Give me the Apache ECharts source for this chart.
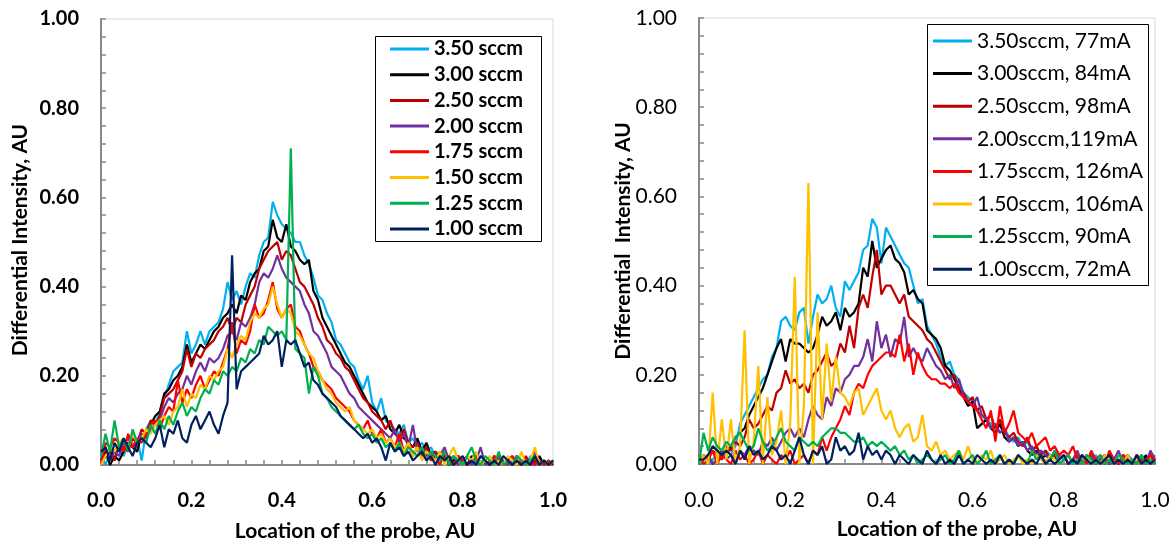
<!DOCTYPE html>
<html><head><meta charset="utf-8">
<script src="https://cdn.jsdelivr.net/npm/echarts@6/dist/echarts.min.js"></script>
<style>html,body{margin:0;padding:0;background:#fff}#c{width:1173px;height:542px}</style>
</head><body><div id="c"></div>
<script>
// probe locations: sampled every 0.01 AU from 0.00 to 1.00
const STEP = 0.01;

const leftNames = ["3.50 sccm","3.00 sccm","2.50 sccm","2.00 sccm","1.75 sccm","1.50 sccm","1.25 sccm","1.00 sccm"];
const rightNames = ["3.50sccm, 77mA","3.00sccm, 84mA","2.50sccm, 98mA","2.00sccm,119mA","1.75sccm, 126mA","1.50sccm, 106mA","1.25sccm, 90mA","1.00sccm, 72mA"];
const colors = ["#00B0F0","#000000","#C00000","#7030A0","#FF0000","#FFC000","#00B050","#002060"];
const xTicks = ["0.0","0.2","0.4","0.6","0.8","1.0"];
const yTicks = ["0.00","0.20","0.40","0.60","0.80","1.00"];

// ---- Left chart ----
const L350 = [
0.02,0.00,0.03,0.01,0.04,0.02,0.05,0.04,0.06,0.01,
0.08,0.10,0.09,0.12,0.15,0.18,0.21,0.22,0.23,0.30,
0.25,0.27,0.30,0.27,0.30,0.31,0.32,0.35,0.41,0.37,
0.39,0.36,0.40,0.43,0.42,0.47,0.50,0.51,0.59,0.56,
0.54,0.53,0.52,0.50,0.50,0.47,0.45,0.42,0.38,0.37,
0.34,0.32,0.28,0.27,0.25,0.23,0.22,0.19,0.17,0.20,
0.14,0.12,0.15,0.10,0.09,0.08,0.07,0.09,0.05,0.06,
0.04,0.05,0.03,0.04,0.02,0.03,0.01,0.02,0.01,0.02,
0.00,0.02,0.01,0.00,0.02,0.01,0.00,0.01,0.02,0.00,
0.01,0.02,0.00,0.01,0.00,0.02,0.01,0.00,0.01,0.00,
0.01];
const L300 = [
0.01,0.03,0.00,0.02,0.01,0.03,0.05,0.04,0.03,0.07,
0.06,0.09,0.11,0.12,0.16,0.17,0.19,0.20,0.22,0.27,
0.23,0.25,0.27,0.26,0.28,0.30,0.31,0.33,0.34,0.36,
0.34,0.38,0.37,0.41,0.43,0.44,0.48,0.49,0.55,0.51,
0.50,0.54,0.49,0.48,0.46,0.45,0.46,0.39,0.37,0.33,
0.31,0.29,0.27,0.25,0.23,0.22,0.20,0.18,0.16,0.14,
0.13,0.12,0.10,0.11,0.08,0.07,0.09,0.06,0.05,0.04,
0.06,0.03,0.05,0.02,0.03,0.01,0.02,0.00,0.01,0.02,
0.01,0.00,0.02,0.01,0.00,0.01,0.00,0.02,0.01,0.00,
0.01,0.00,0.02,0.01,0.00,0.01,0.00,0.02,0.00,0.01,
0.00];
const L250 = [
0.00,0.02,0.03,0.01,0.05,0.04,0.03,0.06,0.05,0.08,
0.07,0.10,0.09,0.11,0.15,0.16,0.17,0.19,0.21,0.26,
0.22,0.25,0.24,0.26,0.27,0.28,0.30,0.31,0.33,0.30,
0.33,0.32,0.36,0.38,0.40,0.44,0.46,0.48,0.49,0.50,
0.46,0.48,0.47,0.44,0.41,0.40,0.38,0.36,0.33,0.31,
0.28,0.27,0.25,0.24,0.22,0.21,0.19,0.17,0.15,0.14,
0.12,0.11,0.10,0.08,0.10,0.07,0.06,0.08,0.05,0.04,
0.05,0.03,0.04,0.02,0.03,0.01,0.02,0.01,0.00,0.02,
0.01,0.00,0.01,0.02,0.00,0.01,0.00,0.01,0.02,0.00,
0.01,0.00,0.01,0.00,0.02,0.00,0.01,0.00,0.01,0.00,
0.01];
const L200 = [
0.02,0.04,0.01,0.03,0.02,0.05,0.06,0.04,0.05,0.07,
0.06,0.08,0.09,0.10,0.13,0.15,0.14,0.16,0.17,0.20,
0.18,0.21,0.23,0.21,0.24,0.23,0.24,0.26,0.29,0.30,
0.28,0.32,0.31,0.33,0.36,0.41,0.43,0.42,0.44,0.47,
0.44,0.42,0.41,0.40,0.39,0.36,0.34,0.30,0.29,0.27,
0.25,0.22,0.21,0.20,0.18,0.16,0.15,0.13,0.12,0.11,
0.10,0.09,0.08,0.07,0.06,0.08,0.05,0.07,0.04,0.09,
0.03,0.04,0.02,0.03,0.01,0.02,0.04,0.01,0.02,0.00,
0.01,0.02,0.00,0.01,0.04,0.00,0.01,0.00,0.02,0.01,
0.00,0.01,0.02,0.00,0.01,0.00,0.03,0.00,0.01,0.00,
0.01];
const L175 = [
0.00,0.05,0.04,0.06,0.05,0.03,0.07,0.04,0.06,0.05,
0.07,0.09,0.10,0.08,0.11,0.13,0.12,0.19,0.14,0.17,
0.15,0.18,0.20,0.17,0.19,0.21,0.20,0.23,0.26,0.32,
0.25,0.28,0.27,0.30,0.36,0.33,0.34,0.37,0.41,0.35,
0.33,0.35,0.36,0.31,0.30,0.27,0.25,0.22,0.21,0.19,
0.18,0.17,0.15,0.14,0.13,0.12,0.10,0.09,0.08,0.10,
0.07,0.06,0.08,0.05,0.06,0.04,0.07,0.03,0.05,0.02,
0.04,0.02,0.03,0.01,0.02,0.00,0.03,0.01,0.00,0.02,
0.01,0.00,0.01,0.02,0.00,0.01,0.00,0.02,0.01,0.00,
0.01,0.02,0.00,0.01,0.00,0.01,0.00,0.01,0.00,0.01,
0.00];
const L150 = [
0.00,0.02,0.04,0.03,0.05,0.06,0.04,0.07,0.05,0.06,
0.08,0.07,0.09,0.10,0.11,0.09,0.12,0.13,0.17,0.13,
0.16,0.15,0.18,0.17,0.20,0.19,0.21,0.22,0.26,0.24,
0.27,0.29,0.28,0.32,0.34,0.33,0.35,0.36,0.40,0.36,
0.33,0.35,0.34,0.30,0.29,0.27,0.25,0.24,0.21,0.19,
0.17,0.16,0.14,0.13,0.12,0.13,0.10,0.09,0.08,0.07,
0.08,0.06,0.07,0.05,0.06,0.04,0.05,0.03,0.05,0.02,
0.04,0.01,0.03,0.02,0.01,0.03,0.00,0.02,0.04,0.01,
0.00,0.02,0.01,0.03,0.00,0.01,0.02,0.00,0.01,0.00,
0.02,0.01,0.00,0.03,0.00,0.01,0.04,0.00,0.01,0.00,
0.01];
const L125 = [
0.02,0.07,0.03,0.10,0.04,0.06,0.03,0.08,0.05,0.06,
0.05,0.09,0.07,0.10,0.08,0.11,0.09,0.12,0.14,0.11,
0.13,0.12,0.15,0.17,0.16,0.19,0.18,0.21,0.20,0.22,
0.21,0.24,0.23,0.26,0.25,0.28,0.27,0.31,0.30,0.29,
0.30,0.28,0.71,0.26,0.25,0.24,0.16,0.22,0.20,0.16,
0.15,0.13,0.12,0.11,0.10,0.09,0.08,0.09,0.07,0.06,
0.07,0.05,0.06,0.04,0.05,0.03,0.05,0.02,0.04,0.03,
0.02,0.04,0.01,0.03,0.02,0.01,0.03,0.00,0.02,0.01,
0.00,0.02,0.04,0.01,0.00,0.02,0.01,0.00,0.03,0.00,
0.01,0.00,0.02,0.01,0.00,0.01,0.02,0.00,0.01,0.00,
0.01];
const L100 = [
0.03,0.04,0.01,0.05,0.03,0.06,0.04,0.02,0.05,0.06,
0.05,0.04,0.06,0.09,0.04,0.08,0.07,0.10,0.06,0.05,
0.09,0.11,0.08,0.10,0.12,0.09,0.07,0.11,0.14,0.47,
0.17,0.21,0.22,0.23,0.24,0.25,0.29,0.27,0.28,0.30,
0.22,0.28,0.27,0.28,0.25,0.22,0.23,0.19,0.18,0.16,
0.15,0.14,0.13,0.11,0.10,0.09,0.08,0.07,0.06,0.07,
0.05,0.06,0.04,0.01,0.05,0.03,0.04,0.02,0.03,0.01,
0.02,0.03,0.01,0.02,0.00,0.02,0.01,0.02,0.00,0.01,
0.02,0.00,0.01,0.00,0.02,0.01,0.00,0.01,0.00,0.02,
0.01,0.00,0.01,0.00,0.01,0.00,0.02,0.00,0.01,0.00,
0.01];

// ---- Right chart ----
const R350 = [
0.01,0.02,0.00,0.01,0.02,0.01,0.03,0.02,0.04,0.09,
0.11,0.13,0.15,0.17,0.19,0.20,0.24,0.26,0.32,0.33,
0.31,0.30,0.34,0.35,0.27,0.33,0.38,0.36,0.37,0.40,
0.35,0.33,0.41,0.39,0.41,0.43,0.48,0.49,0.55,0.53,
0.45,0.53,0.51,0.49,0.47,0.45,0.44,0.40,0.36,0.37,
0.31,0.29,0.27,0.24,0.22,0.23,0.20,0.19,0.16,0.15,
0.14,0.12,0.11,0.10,0.09,0.08,0.07,0.08,0.06,0.05,
0.06,0.04,0.05,0.03,0.04,0.02,0.03,0.02,0.01,0.02,
0.01,0.02,0.00,0.01,0.02,0.00,0.01,0.02,0.00,0.01,
0.02,0.00,0.01,0.00,0.02,0.01,0.00,0.02,0.01,0.00,
0.02];
const R300 = [
0.00,0.01,0.02,0.00,0.01,0.03,0.02,0.04,0.06,0.07,
0.08,0.11,0.13,0.15,0.17,0.20,0.23,0.26,0.28,0.23,
0.28,0.27,0.27,0.26,0.25,0.26,0.29,0.33,0.31,0.32,
0.34,0.30,0.35,0.33,0.34,0.36,0.44,0.42,0.50,0.44,
0.46,0.48,0.49,0.46,0.45,0.43,0.38,0.39,0.37,0.36,
0.30,0.29,0.28,0.26,0.22,0.21,0.19,0.17,0.15,0.13,
0.14,0.08,0.09,0.10,0.08,0.07,0.09,0.06,0.05,0.06,
0.04,0.05,0.03,0.02,0.03,0.01,0.02,0.01,0.02,0.00,
0.01,0.02,0.00,0.01,0.00,0.02,0.01,0.00,0.01,0.02,
0.00,0.01,0.00,0.02,0.01,0.00,0.01,0.00,0.02,0.00,
0.01];
const R250 = [
0.00,0.02,0.01,0.03,0.02,0.01,0.04,0.03,0.05,0.04,
0.06,0.10,0.08,0.09,0.11,0.13,0.12,0.16,0.17,0.21,
0.18,0.19,0.17,0.18,0.16,0.20,0.21,0.23,0.25,0.22,
0.23,0.27,0.25,0.31,0.26,0.35,0.38,0.35,0.42,0.48,
0.38,0.40,0.40,0.38,0.36,0.38,0.33,0.32,0.31,0.30,
0.28,0.27,0.25,0.23,0.21,0.19,0.20,0.17,0.16,0.14,
0.15,0.12,0.13,0.10,0.11,0.08,0.10,0.07,0.06,0.07,
0.05,0.04,0.06,0.03,0.04,0.02,0.03,0.01,0.02,0.01,
0.02,0.00,0.01,0.02,0.00,0.01,0.02,0.00,0.01,0.00,
0.02,0.01,0.00,0.01,0.02,0.00,0.01,0.00,0.01,0.02,
0.00];
const R200 = [
0.00,0.01,0.02,0.00,0.01,0.03,0.01,0.02,0.00,0.03,
0.02,0.04,0.03,0.02,0.05,0.04,0.06,0.03,0.05,0.07,
0.08,0.06,0.08,0.06,0.10,0.13,0.11,0.10,0.15,0.13,
0.17,0.16,0.19,0.20,0.22,0.22,0.24,0.28,0.23,0.32,
0.26,0.29,0.24,0.28,0.27,0.33,0.24,0.26,0.24,0.23,
0.26,0.24,0.22,0.21,0.19,0.20,0.17,0.19,0.15,0.14,
0.13,0.15,0.11,0.10,0.08,0.09,0.07,0.08,0.05,0.06,
0.04,0.05,0.03,0.04,0.02,0.03,0.02,0.01,0.03,0.01,
0.02,0.00,0.01,0.03,0.00,0.01,0.02,0.00,0.01,0.02,
0.00,0.01,0.03,0.00,0.01,0.00,0.02,0.01,0.00,0.03,
0.01];
const R175 = [
0.02,0.00,0.01,0.03,0.00,0.02,0.01,0.00,0.03,0.01,
0.02,0.00,0.01,0.03,0.00,0.02,0.01,0.00,0.02,0.01,
0.03,0.00,0.01,0.02,0.00,0.03,0.02,0.06,0.03,0.06,
0.08,0.10,0.13,0.11,0.16,0.18,0.17,0.20,0.22,0.23,
0.24,0.25,0.25,0.24,0.29,0.23,0.27,0.20,0.25,0.22,
0.20,0.19,0.19,0.18,0.18,0.17,0.18,0.16,0.15,0.14,
0.13,0.12,0.10,0.08,0.12,0.05,0.13,0.07,0.09,0.12,
0.07,0.06,0.05,0.07,0.04,0.05,0.06,0.03,0.04,0.02,
0.03,0.02,0.04,0.01,0.02,0.00,0.03,0.01,0.02,0.00,
0.03,0.01,0.00,0.02,0.01,0.00,0.02,0.01,0.00,0.02,
0.01];
const R150 = [
0.00,0.02,0.00,0.16,0.00,0.10,0.01,0.10,0.00,0.04,
0.30,0.00,0.05,0.22,0.00,0.15,0.02,0.05,0.12,0.00,
0.09,0.42,0.00,0.13,0.63,0.00,0.34,0.10,0.27,0.14,
0.24,0.16,0.15,0.13,0.16,0.17,0.11,0.13,0.15,0.17,
0.12,0.10,0.12,0.08,0.06,0.08,0.09,0.05,0.06,0.11,
0.04,0.03,0.05,0.02,0.03,0.01,0.02,0.03,0.01,0.04,
0.01,0.00,0.02,0.01,0.03,0.00,0.01,0.02,0.00,0.01,
0.02,0.00,0.01,0.00,0.02,0.01,0.00,0.02,0.01,0.00,
0.01,0.02,0.00,0.01,0.00,0.02,0.00,0.01,0.00,0.02,
0.01,0.00,0.01,0.00,0.02,0.00,0.01,0.00,0.01,0.00,
0.01];
const R125 = [
0.00,0.07,0.03,0.06,0.04,0.03,0.05,0.04,0.06,0.07,
0.05,0.03,0.04,0.08,0.05,0.03,0.04,0.06,0.08,0.05,
0.04,0.03,0.06,0.05,0.04,0.05,0.04,0.06,0.07,0.08,
0.08,0.07,0.07,0.06,0.05,0.05,0.06,0.04,0.05,0.04,
0.05,0.04,0.03,0.04,0.02,0.03,0.01,0.02,0.00,0.01,
0.02,0.01,0.00,0.01,0.02,0.00,0.01,0.03,0.00,0.01,
0.02,0.00,0.01,0.03,0.00,0.01,0.02,0.00,0.01,0.00,
0.02,0.01,0.00,0.03,0.01,0.02,0.00,0.01,0.03,0.00,
0.01,0.02,0.00,0.01,0.00,0.02,0.01,0.00,0.02,0.00,
0.01,0.00,0.02,0.01,0.00,0.01,0.00,0.02,0.00,0.01,
0.00];
const R100 = [
0.01,0.01,0.02,0.04,0.03,0.02,0.03,0.02,0.00,0.03,
0.01,0.04,0.02,0.03,0.01,0.02,0.04,0.03,0.01,0.02,
0.00,0.03,0.06,0.02,0.00,0.03,0.02,0.04,0.00,0.01,
0.06,0.03,0.04,0.02,0.03,0.07,0.01,0.04,0.02,0.03,
0.01,0.03,0.02,0.00,0.02,0.01,0.00,0.02,0.01,0.00,
0.03,0.01,0.00,0.02,0.00,0.01,0.00,0.02,0.00,0.01,
0.00,0.02,0.01,0.00,0.01,0.00,0.02,0.00,0.01,0.00,
0.02,0.01,0.00,0.01,0.00,0.02,0.00,0.01,0.00,0.01,
0.02,0.00,0.01,0.00,0.02,0.01,0.00,0.01,0.00,0.01,
0.02,0.00,0.01,0.00,0.01,0.00,0.02,0.00,0.01,0.00,
0.01];

const leftData = [L350,L300,L250,L200,L175,L150,L125,L100];
const rightData = [R350,R300,R250,R200,R175,R150,R125,R100];

function pairs(arr){
  const out=[];
  arr.forEach((v,i)=>{ const x=+(i*STEP).toFixed(3); if(x<=1.0001) out.push([x,v]); });
  return out;
}

const BOLD = {fontFamily:'Lato', fontWeight:'bold', color:'#000'};
const REG = {fontFamily:'Lato', fontWeight:'normal', color:'#000'};
const AX = '#898989';

function xAxis(idx, style){
  return {type:'value', gridIndex:idx, min:0, max:1, interval:0.2,
    axisLine:{show:true, onZero:false, lineStyle:{color:AX, width:2}},
    axisTick:{show:true, inside:true, length:5, lineStyle:{color:AX, width:1.5}},
    minorTick:{show:true, splitNumber:5, length:5, lineStyle:{color:AX, width:1.5}},
    splitLine:{show:false},
    axisLabel:Object.assign({fontSize: idx===0?20:21, margin:26,
      formatter:(v)=>xTicks[Math.round(v/0.2)]}, style)};
}
function yAxis(idx, style){
  return {type:'value', gridIndex:idx, min:0, max:1, interval:0.2,
    axisLine:{show:true, lineStyle:{color:AX, width:2}},
    axisTick:{show:true, inside:true, length:5, lineStyle:{color:AX, width:1.5}},
    minorTick:{show:true, splitNumber:5, length:5, lineStyle:{color:AX, width:1.5}},
    splitLine:{show:false},
    axisLabel:Object.assign({fontSize: idx===0?20:21, margin:22,
      formatter:(v)=>yTicks[Math.round(v/0.2)]}, style)};
}

const series=[];
leftData.forEach((d,i)=>series.push({name:leftNames[i], type:'line', xAxisIndex:0, yAxisIndex:0,
  data:pairs(d), showSymbol:false, color:colors[i], lineStyle:{width:2.2, color:colors[i]}, z:2+i}));
rightData.forEach((d,i)=>series.push({name:rightNames[i], type:'line', xAxisIndex:1, yAxisIndex:1,
  data:pairs(d), showSymbol:false, color:colors[i], lineStyle:{width:2.2, color:colors[i]}, z:2+i}));

const TITLE = {fill:'#000', fontSize:21, fontWeight:'bold', fontFamily:'Lato', align:'center', verticalAlign:'middle'};

const chart = echarts.init(document.getElementById('c'), null, {renderer:'canvas'});
chart.setOption({
  animation:false,
  backgroundColor:'#fff',
  grid:[
    {left:101, top:19, width:452, height:446, show:true, borderColor:'#D9D9D9', borderWidth:1, backgroundColor:'transparent'},
    {left:699, top:18, width:456, height:446, show:true, borderColor:'#D9D9D9', borderWidth:1, backgroundColor:'transparent'}
  ],
  xAxis:[xAxis(0,BOLD), xAxis(1,REG)],
  yAxis:[yAxis(0,BOLD), yAxis(1,REG)],
  legend:[
    {data:leftNames, orient:'vertical', left:390, top:39, itemWidth:39, itemHeight:3, icon:'rect',
     itemGap:5.7, padding:0, selectedMode:false,
     textStyle:Object.assign({fontSize:20, lineHeight:20}, BOLD)},
    {data:rightNames, orient:'vertical', left:933, top:29, itemWidth:39, itemHeight:3, icon:'rect',
     itemGap:8.6, padding:0, selectedMode:false,
     textStyle:Object.assign({fontSize:21, lineHeight:24}, REG)}
  ],
  graphic:[
    {type:'rect', shape:{x:375.5, y:36.5, width:166, height:205}, style:{fill:'none', stroke:'#000', lineWidth:1}},
    {type:'rect', shape:{x:927.5, y:24.5, width:221, height:261}, style:{fill:'none', stroke:'#000', lineWidth:1}},
    {type:'text', x:355, y:531, style:Object.assign({text:'Location of the probe, AU'}, TITLE)},
    {type:'text', x:957, y:529, style:Object.assign({text:'Location of the probe, AU'}, TITLE)},
    {type:'text', x:20, y:240, rotation:Math.PI/2, style:Object.assign({text:'Differential Intensity, AU'}, TITLE)},
    {type:'text', x:623, y:241, rotation:Math.PI/2, style:Object.assign({text:'Differential  Intensity, AU'}, TITLE)}
  ],
  series:series
});
</script></body></html>
